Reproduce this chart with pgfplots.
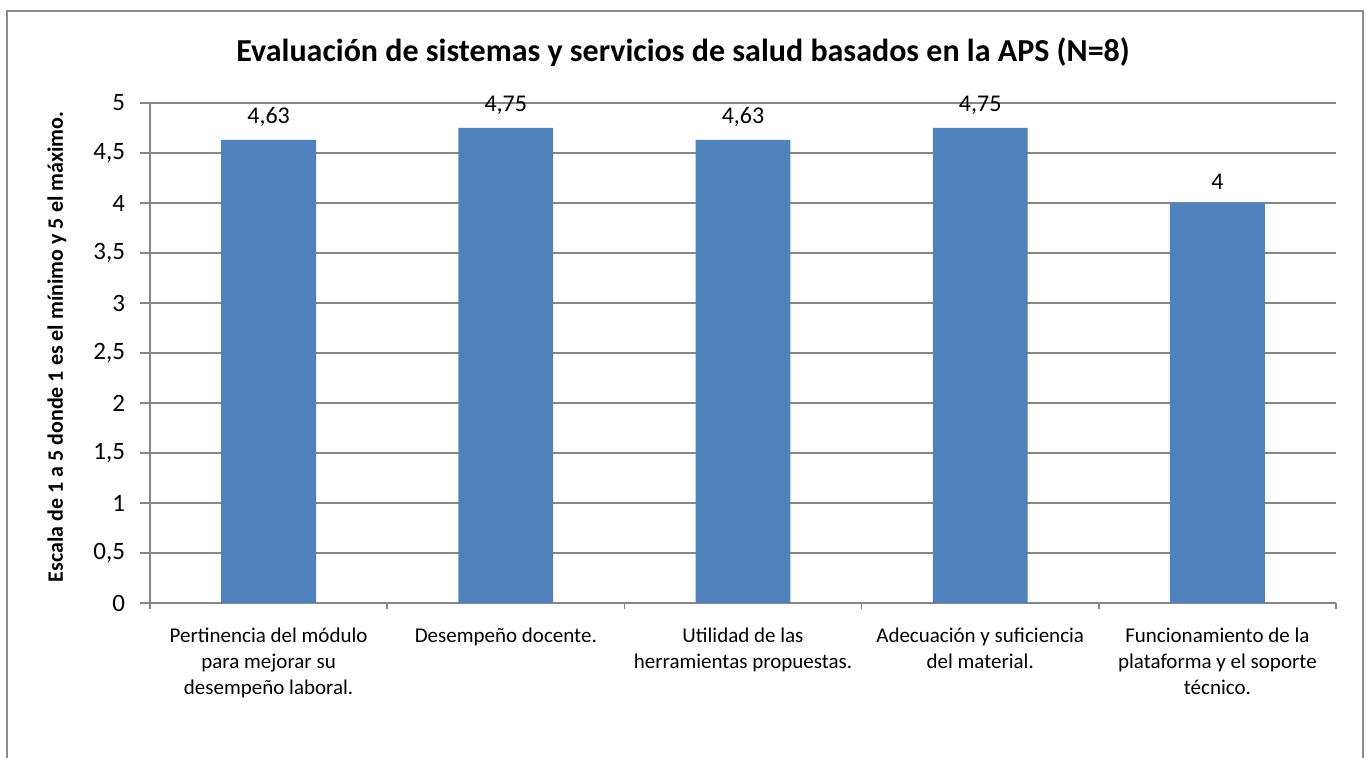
\documentclass[border=0pt]{standalone}
\usepackage{pgfplots}
\pgfplotsset{compat=1.18}
\usepackage{fontspec}
\setmainfont{Carlito}
\definecolor{barblue}{HTML}{4F81BD}
\definecolor{gridgray}{HTML}{868686}
\definecolor{framegray}{HTML}{8C8C8C}
\begin{document}
\begin{tikzpicture}[x=1pt,y=1pt]
\useasboundingbox (-75,-77.5) rectangle (610,301.5);
\draw[framegray,line width=0.6pt] (-71.5,-80) -- (-71.5,296) -- (606.5,296) -- (606.5,-80);
\begin{axis}[
  at={(0,0)}, anchor=south west,
  scale only axis, width=593pt, height=250pt,
  xmin=-0.5, xmax=4.5, ymin=0, ymax=5,
  axis lines=left, axis line style={gridgray, line width=0.7pt, -},
  xtick=data,
  xticklabels={{Pertinencia del módulo\\para mejorar su\\desempeño laboral.},{Desempeño docente.},{Utilidad de las\\herramientas propuestas.},{Adecuación y suficiencia\\del material.},{Funcionamiento de la\\plataforma y el soporte\\técnico.}},
  x tick label style={align=center, font=\fontsize{10.5}{13}\selectfont, yshift=-4pt},
  major x tick style={draw=none},
  minor xtick={-0.5,0.5,1.5,2.5,3.5,4.5},
  minor x tick style={gridgray, line width=0.7pt},
  minor tick length=3pt,
  ytick={0,0.5,...,5},
  y tick style={gridgray, line width=0.7pt},
  major tick length=5pt,
  tick align=outside,
  ymajorgrids, grid style={gridgray, line width=0.7pt},
  y tick label style={font=\fontsize{12.5}{14}\selectfont, xshift=-4pt, /pgf/number format/.cd, use comma, fixed, precision=1},
  /pgf/number format/assume math mode=true,
  ybar, bar width=0.4,
  nodes near coords,
  nodes near coords style={font=\fontsize{12}{14}\selectfont, black, yshift=3pt, /pgf/number format/.cd, use comma, fixed, precision=2, assume math mode=true},
]
\addplot[fill=barblue, draw=none] coordinates {(0,4.63) (1,4.75) (2,4.63) (3,4.75) (4,4)};
\end{axis}
\node[anchor=base, font=\bfseries\fontsize{16}{19}\selectfont] at (266.5,270.5) {Evaluación de sistemas y servicios de salud basados en la APS (N=8)};
\node[rotate=90, font=\bfseries\fontsize{11}{12}\selectfont] at (-46.5,128) {Escala de 1 a 5 donde 1 es el mínimo y 5 el máximo.};
\end{tikzpicture}
\end{document}
